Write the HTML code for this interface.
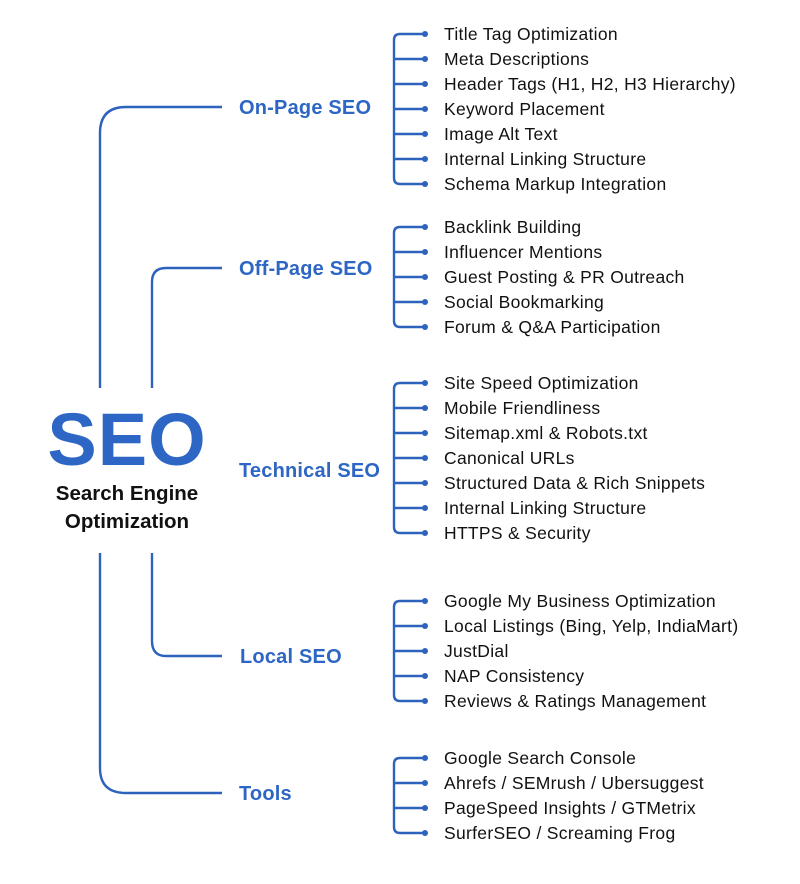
<!DOCTYPE html>
<html><head><meta charset="utf-8"><style>
html,body{margin:0;padding:0;background:#fff;}
svg{display:block;}
.it{font-family:"Liberation Sans",sans-serif;font-size:17.5px;fill:#111;letter-spacing:0.3px;}
.cat{font-family:"Liberation Sans",sans-serif;font-size:20px;font-weight:bold;fill:#2d66c4;letter-spacing:0.2px;}
</style></head><body>
<svg width="800" height="884" viewBox="0 0 800 884" xmlns="http://www.w3.org/2000/svg">
<g fill="none" stroke="#2d62bd" stroke-width="2.4">
<path d="M100 388 V133 Q100 107 126 107 H222"/>
<path d="M152 388 V282 Q152 268 166 268 H222"/>
<path d="M100 553 V768 Q100 793 126 793 H222"/>
<path d="M152 553 V641 Q152 656 166 656 H222"/>
<path d="M424 34 H400 Q394 34 394 40 V178 Q394 184 400 184 H424"/>
<path d="M394 59 H424 M394 84 H424 M394 109 H424 M394 134 H424 M394 159 H424"/>
<path d="M424 227 H400 Q394 227 394 233 V321 Q394 327 400 327 H424"/>
<path d="M394 252 H424 M394 277 H424 M394 302 H424"/>
<path d="M424 383 H400 Q394 383 394 389 V527 Q394 533 400 533 H424"/>
<path d="M394 408 H424 M394 433 H424 M394 458 H424 M394 483 H424 M394 508 H424"/>
<path d="M424 601 H400 Q394 601 394 607 V695 Q394 701 400 701 H424"/>
<path d="M394 626 H424 M394 651 H424 M394 676 H424"/>
<path d="M424 758 H400 Q394 758 394 764 V827 Q394 833 400 833 H424"/>
<path d="M394 783 H424 M394 808 H424"/>
</g>
<g fill="#2d62bd">
<circle cx="425" cy="34" r="3"/><circle cx="425" cy="59" r="3"/><circle cx="425" cy="84" r="3"/><circle cx="425" cy="109" r="3"/><circle cx="425" cy="134" r="3"/><circle cx="425" cy="159" r="3"/><circle cx="425" cy="184" r="3"/>
<circle cx="425" cy="227" r="3"/><circle cx="425" cy="252" r="3"/><circle cx="425" cy="277" r="3"/><circle cx="425" cy="302" r="3"/><circle cx="425" cy="327" r="3"/>
<circle cx="425" cy="383" r="3"/><circle cx="425" cy="408" r="3"/><circle cx="425" cy="433" r="3"/><circle cx="425" cy="458" r="3"/><circle cx="425" cy="483" r="3"/><circle cx="425" cy="508" r="3"/><circle cx="425" cy="533" r="3"/>
<circle cx="425" cy="601" r="3"/><circle cx="425" cy="626" r="3"/><circle cx="425" cy="651" r="3"/><circle cx="425" cy="676" r="3"/><circle cx="425" cy="701" r="3"/>
<circle cx="425" cy="758" r="3"/><circle cx="425" cy="783" r="3"/><circle cx="425" cy="808" r="3"/><circle cx="425" cy="833" r="3"/>
</g>
<text x="127" y="465" text-anchor="middle" font-family="Liberation Sans,sans-serif" font-weight="bold" font-size="74" fill="#2d66c4" letter-spacing="1">SEO</text>
<text x="127" y="500" text-anchor="middle" font-family="Liberation Sans,sans-serif" font-weight="bold" font-size="20.5" fill="#111">Search Engine</text>
<text x="127" y="528" text-anchor="middle" font-family="Liberation Sans,sans-serif" font-weight="bold" font-size="20.5" fill="#111">Optimization</text>
<g class="cat">
<text x="239" y="114">On-Page SEO</text>
<text x="239" y="275">Off-Page SEO</text>
<text x="239" y="477">Technical SEO</text>
<text x="240" y="663">Local SEO</text>
<text x="239" y="800">Tools</text>
</g>
<g class="it">
<text x="444" y="40">Title Tag Optimization</text>
<text x="444" y="65">Meta Descriptions</text>
<text x="444" y="90">Header Tags (H1, H2, H3 Hierarchy)</text>
<text x="444" y="115">Keyword Placement</text>
<text x="444" y="140">Image Alt Text</text>
<text x="444" y="165">Internal Linking Structure</text>
<text x="444" y="190">Schema Markup Integration</text>
<text x="444" y="233">Backlink Building</text>
<text x="444" y="258">Influencer Mentions</text>
<text x="444" y="283">Guest Posting &amp; PR Outreach</text>
<text x="444" y="308">Social Bookmarking</text>
<text x="444" y="333">Forum &amp; Q&amp;A Participation</text>
<text x="444" y="389">Site Speed Optimization</text>
<text x="444" y="414">Mobile Friendliness</text>
<text x="444" y="439">Sitemap.xml &amp; Robots.txt</text>
<text x="444" y="464">Canonical URLs</text>
<text x="444" y="489">Structured Data &amp; Rich Snippets</text>
<text x="444" y="514">Internal Linking Structure</text>
<text x="444" y="539">HTTPS &amp; Security</text>
<text x="444" y="607">Google My Business Optimization</text>
<text x="444" y="632">Local Listings (Bing, Yelp, IndiaMart)</text>
<text x="444" y="657">JustDial</text>
<text x="444" y="682">NAP Consistency</text>
<text x="444" y="707">Reviews &amp; Ratings Management</text>
<text x="444" y="764">Google Search Console</text>
<text x="444" y="789">Ahrefs / SEMrush / Ubersuggest</text>
<text x="444" y="814">PageSpeed Insights / GTMetrix</text>
<text x="444" y="839">SurferSEO / Screaming Frog</text>
</g>
</svg>
</body></html>
